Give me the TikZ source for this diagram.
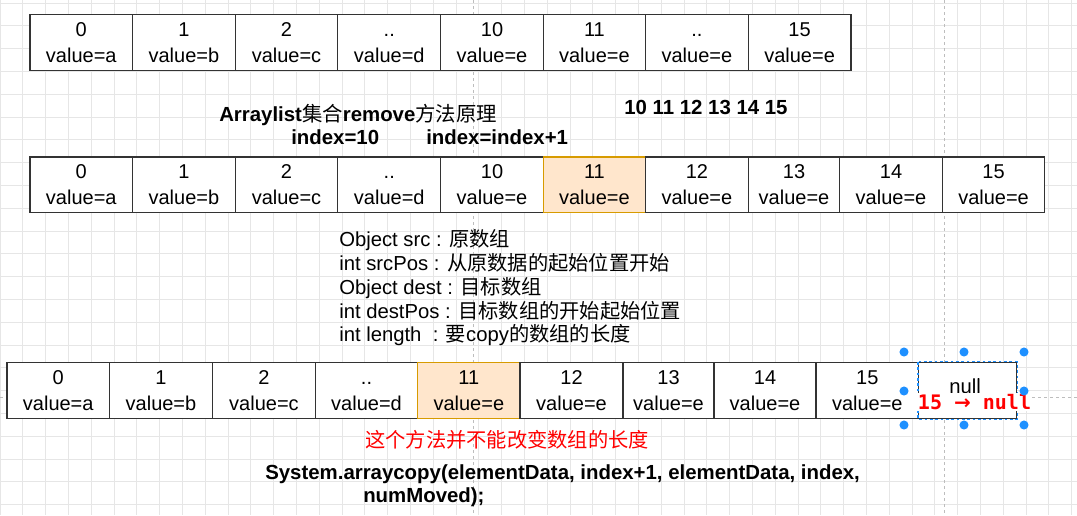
\documentclass[tikz,border=0pt]{standalone}
\usepackage{fontspec}
\setmainfont{Liberation Sans}
\newfontfamily\cjk{Noto Sans CJK SC}
\newfontfamily\codefont{DejaVu Sans Mono}
\newfontfamily\arrowfont{DejaVu Sans}
\newcommand\zh[1]{{\cjk\mdseries #1}}

\definecolor{hlfill}{HTML}{FFE6CC}
\definecolor{hldraw}{HTML}{D79B00}
\definecolor{selblue}{HTML}{1E90FF}
\definecolor{gridc}{HTML}{E6E6E6}
\definecolor{pagebrk}{HTML}{BDBDBD}
\definecolor{labred}{HTML}{FF0000}

\tikzset{
  gridline/.style={draw=gridc, line width=0.6pt},
  pageline/.style={draw=pagebrk, line width=0.6pt, dash pattern=on 2.5pt off 2pt},
  cellbox/.style={draw=black!80, line width=0.9pt, fill=white, inner sep=0pt,
    align=center, font=\fontsize{15}{19.9}\selectfont},
  hlcell/.style={fill=hlfill, draw=hldraw},
  txt/.style={inner sep=0pt, anchor=base west, font=\fontsize{15.2}{18}\selectfont},
  boldtxt/.style={txt, font=\fontsize{15.3}{18}\selectfont\bfseries},
  handle/.style={fill=selblue},
}

% \arrcell[style]{name}{x left}{x right}{y top}{y bottom}{text}
\newcommand\arrcell[7][]{%
  \pgfmathsetmacro\cw{(#4-#3)*0.75}%
  \pgfmathsetmacro\ch{(#6-#5)*0.75}%
  \node[cellbox,#1,minimum width=\cw pt,minimum height=\ch pt] (#2) at ({(#3+#4)/2},{(#5+#6)/2}) {\vphantom{0}#7};%
}

\begin{document}
\begin{tikzpicture}[x=0.75pt,y=-0.75pt]
\useasboundingbox (0,0) rectangle (1077,515);
\fill[white] (0,0) rectangle (1077,515);

% background grid
\foreach \k in {0,...,47} \draw[gridline] ({\k*22.8},0) -- ({\k*22.8},515);
\foreach \k in {0,...,22} \draw[gridline] (0,{3+\k*22.8}) -- (1077,{3+\k*22.8});

% page breaks
\draw[pageline] (473,0) -- (473,515);
\draw[pageline] (944,0) -- (944,515);
\draw[pageline] (0,397) -- (1077,397);

% first array
\def\ya{14.5}\def\yb{70.5}
\arrcell{a0}{30}{132.6}{\ya}{\yb}{0\\value=a}
\arrcell{a1}{132.6}{235.2}{\ya}{\yb}{1\\value=b}
\arrcell{a2}{235.2}{337.8}{\ya}{\yb}{2\\value=c}
\arrcell{a3}{337.8}{440.8}{\ya}{\yb}{..\\value=d}
\arrcell{a4}{440.8}{543.3}{\ya}{\yb}{10\\value=e}
\arrcell{a5}{543.3}{645.5}{\ya}{\yb}{11\\value=e}
\arrcell{a6}{645.5}{748.3}{\ya}{\yb}{..\\value=e}
\arrcell{a7}{748.3}{850.9}{\ya}{\yb}{15\\value=e}

% headings
\node[boldtxt] (title) at (219,121) {Arraylist\zh{集合}remove\zh{方法原理}};
\node[boldtxt] (idxa) at (291,144) {index=10};
\node[boldtxt] (idxb) at (426,144) {index=index+1};
\node[boldtxt] (nums) at (624,114) {10 11 12 13 14 15};

% second array
\def\ya{157}\def\yb{212.5}
\arrcell{b0}{30}{132.6}{\ya}{\yb}{0\\value=a}
\arrcell{b1}{132.6}{235.2}{\ya}{\yb}{1\\value=b}
\arrcell{b2}{235.2}{337.8}{\ya}{\yb}{2\\value=c}
\arrcell{b3}{337.8}{440.8}{\ya}{\yb}{..\\value=d}
\arrcell{b4}{440.8}{543.3}{\ya}{\yb}{10\\value=e}
\arrcell[hlcell]{b5}{543.3}{645.5}{\ya}{\yb}{11\\value=e}
\arrcell{b6}{645.5}{748.3}{\ya}{\yb}{12\\value=e}
\arrcell{b7}{748.3}{839.7}{\ya}{\yb}{13\\value=e}
\arrcell{b8}{839.7}{942.3}{\ya}{\yb}{14\\value=e}
\arrcell{b9}{942.3}{1044.8}{\ya}{\yb}{15\\value=e}

% parameter notes
\node[txt] (p1) at (339,246.7) {Object src : \zh{原数组}};
\node[txt] (p2) at (339,270.5) {int srcPos : \zh{从原数据的起始位置开始}};
\node[txt] (p3) at (339,294.2) {Object dest : \zh{目标数组}};
\node[txt] (p4) at (339,318) {int destPos : \zh{目标数组的开始起始位置}};
\node[txt] (p5) at (339,341.7) {int length\ \ : \zh{要}copy\zh{的数组的长度}};

% third array
\def\ya{362.5}\def\yb{418.5}
\arrcell{c0}{7}{109.5}{\ya}{\yb}{0\\value=a}
\arrcell{c1}{109.5}{212.5}{\ya}{\yb}{1\\value=b}
\arrcell{c2}{212.5}{315.4}{\ya}{\yb}{2\\value=c}
\arrcell{c3}{315.4}{417.7}{\ya}{\yb}{..\\value=d}
\arrcell[hlcell]{c4}{417.7}{520}{\ya}{\yb}{11\\value=e}
\arrcell{c5}{520}{623}{\ya}{\yb}{12\\value=e}
\arrcell{c6}{623}{714}{\ya}{\yb}{13\\value=e}
\arrcell{c7}{714}{816}{\ya}{\yb}{14\\value=e}
\arrcell{c8}{816}{918.6}{\ya}{\yb}{15\\value=e}
\arrcell{c9}{918.6}{1016.6}{\ya}{\yb}{}

% selected last cell being edited
\draw[selblue, line width=0.8pt, dash pattern=on 2pt off 2pt] (c9.north west) rectangle (c9.south east);
\node[txt] (nulltxt) at (949,393) {null};
\draw[black, line width=0.8pt] (978.5,378) -- (978.5,393);
\node[fill=white, inner sep=0.6pt, text=labred, font=\codefont\bfseries\fontsize{15}{16}\selectfont] (lbl) at (974.5,402) {15 {\arrowfont\bfseries →} null};
\foreach \p in {(904,352),(964,352),(1024,352),(904,391),(1024,391),(904,425),(964,425),(1024,425)}
  \fill[handle] \p circle[radius=3.4pt];

% notes below
\node[txt, text=labred] (warn) at (365,447) {\zh{这个方法并不能改变数组的长度}};
\node[boldtxt] (code1) at (265,479.5) {System.arraycopy(elementData, index+1, elementData, index,};
\node[boldtxt] (code2) at (363,502.5) {numMoved);};
\end{tikzpicture}
\end{document}
